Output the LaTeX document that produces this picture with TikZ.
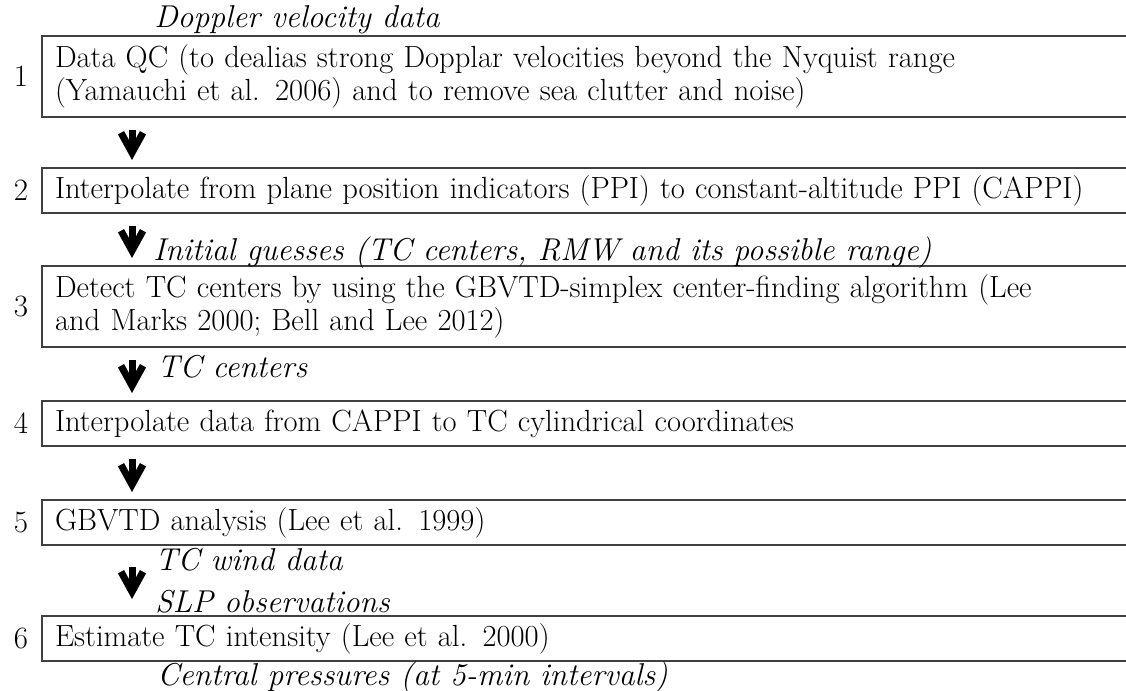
\documentclass[tikz,border=0pt]{standalone}
\usetikzlibrary{positioning}
\usetikzlibrary{arrows.meta}
\newcommand{\flowsize}{\fontsize{15.3}{16.5}\selectfont}
\newcommand{\labelsize}{\fontsize{15.8}{16.5}\selectfont}

\begin{document}
\begin{tikzpicture}[x=0.5pt, y=-0.5pt,
  stepbox/.style={draw=black!75, line width=1pt, outer sep=0pt, inner xsep=6.5pt, inner ysep=0pt,
    text width=547pt, align=left, minimum height=22.5pt, font=\flowsize},
  twoline/.style={minimum height=40.5pt},
  stepnum/.style={font=\fontsize{15.5}{16}\selectfont, inner sep=0pt, outer sep=0pt},
  datalabel/.style={font=\labelsize\itshape, inner sep=0pt, anchor=base west},
  flowarrow/.style={line width=3.5pt, -{Straight Barb[length=10pt, width=11pt]}, shorten <=6.5pt, shorten >=4pt}]

\clip (0,0) rectangle (1126,691);

\node[stepbox, twoline, anchor=north west] (b1) at (42,36)
  {Data QC (to dealias strong Dopplar velocities beyond the Nyquist range\\(Yamauchi et al. 2006) and to remove sea clutter and noise)};
\node[stepbox, below=25.5pt of b1] (b2)
  {Interpolate from plane position indicators (PPI) to constant-altitude PPI (CAPPI)};
\node[stepbox, twoline, below=26.5pt of b2] (b3)
  {Detect TC centers by using the GBVTD-simplex center-finding algorithm (Lee\\and Marks 2000; Bell and Lee 2012)};
\node[stepbox, below=27pt of b3] (b4)
  {Interpolate data from CAPPI to TC cylindrical coordinates};
\node[stepbox, below=27pt of b4] (b5)
  {GBVTD analysis (Lee et al. 1999)};
\node[stepbox, below=35.5pt of b5] (b6)
  {Estimate TC intensity (Lee et al. 2000)};

\node[stepnum, left=7pt of b1] (n1) {1};
\node[stepnum, left=7pt of b2] (n2) {2};
\node[stepnum, left=7pt of b3] (n3) {3};
\node[stepnum, left=7pt of b4] (n4) {4};
\node[stepnum, left=7pt of b5] (n5) {5};
\node[stepnum, left=7pt of b6] (n6) {6};

\node[datalabel] (doppler) at (154,27) {Doppler velocity data};
\node[datalabel] (guess) at (153,260) {Initial guesses (TC centers, RMW and its possible range)};
\node[datalabel] (centers) at (157,377) {TC centers};
\node[datalabel] (wind) at (155,570) {TC wind data};
\node[datalabel] (slp) at (155,612) {SLP observations};
\node[datalabel] (pressure) at (157,685) {Central pressures (at 5-min intervals)};

\coordinate (axis) at (132,0);
\draw[flowarrow] (b1.south -| axis) -- (b2.north -| axis);
\draw[flowarrow] (b2.south -| axis) -- (b3.north -| axis);
\draw[flowarrow] (b3.south -| axis) -- (b4.north -| axis);
\draw[flowarrow] (b4.south -| axis) -- (b5.north -| axis);
\draw[flowarrow, shorten <=11pt, shorten >=8.5pt] (b5.south -| axis) -- (b6.north -| axis);

\end{tikzpicture}
\end{document}
